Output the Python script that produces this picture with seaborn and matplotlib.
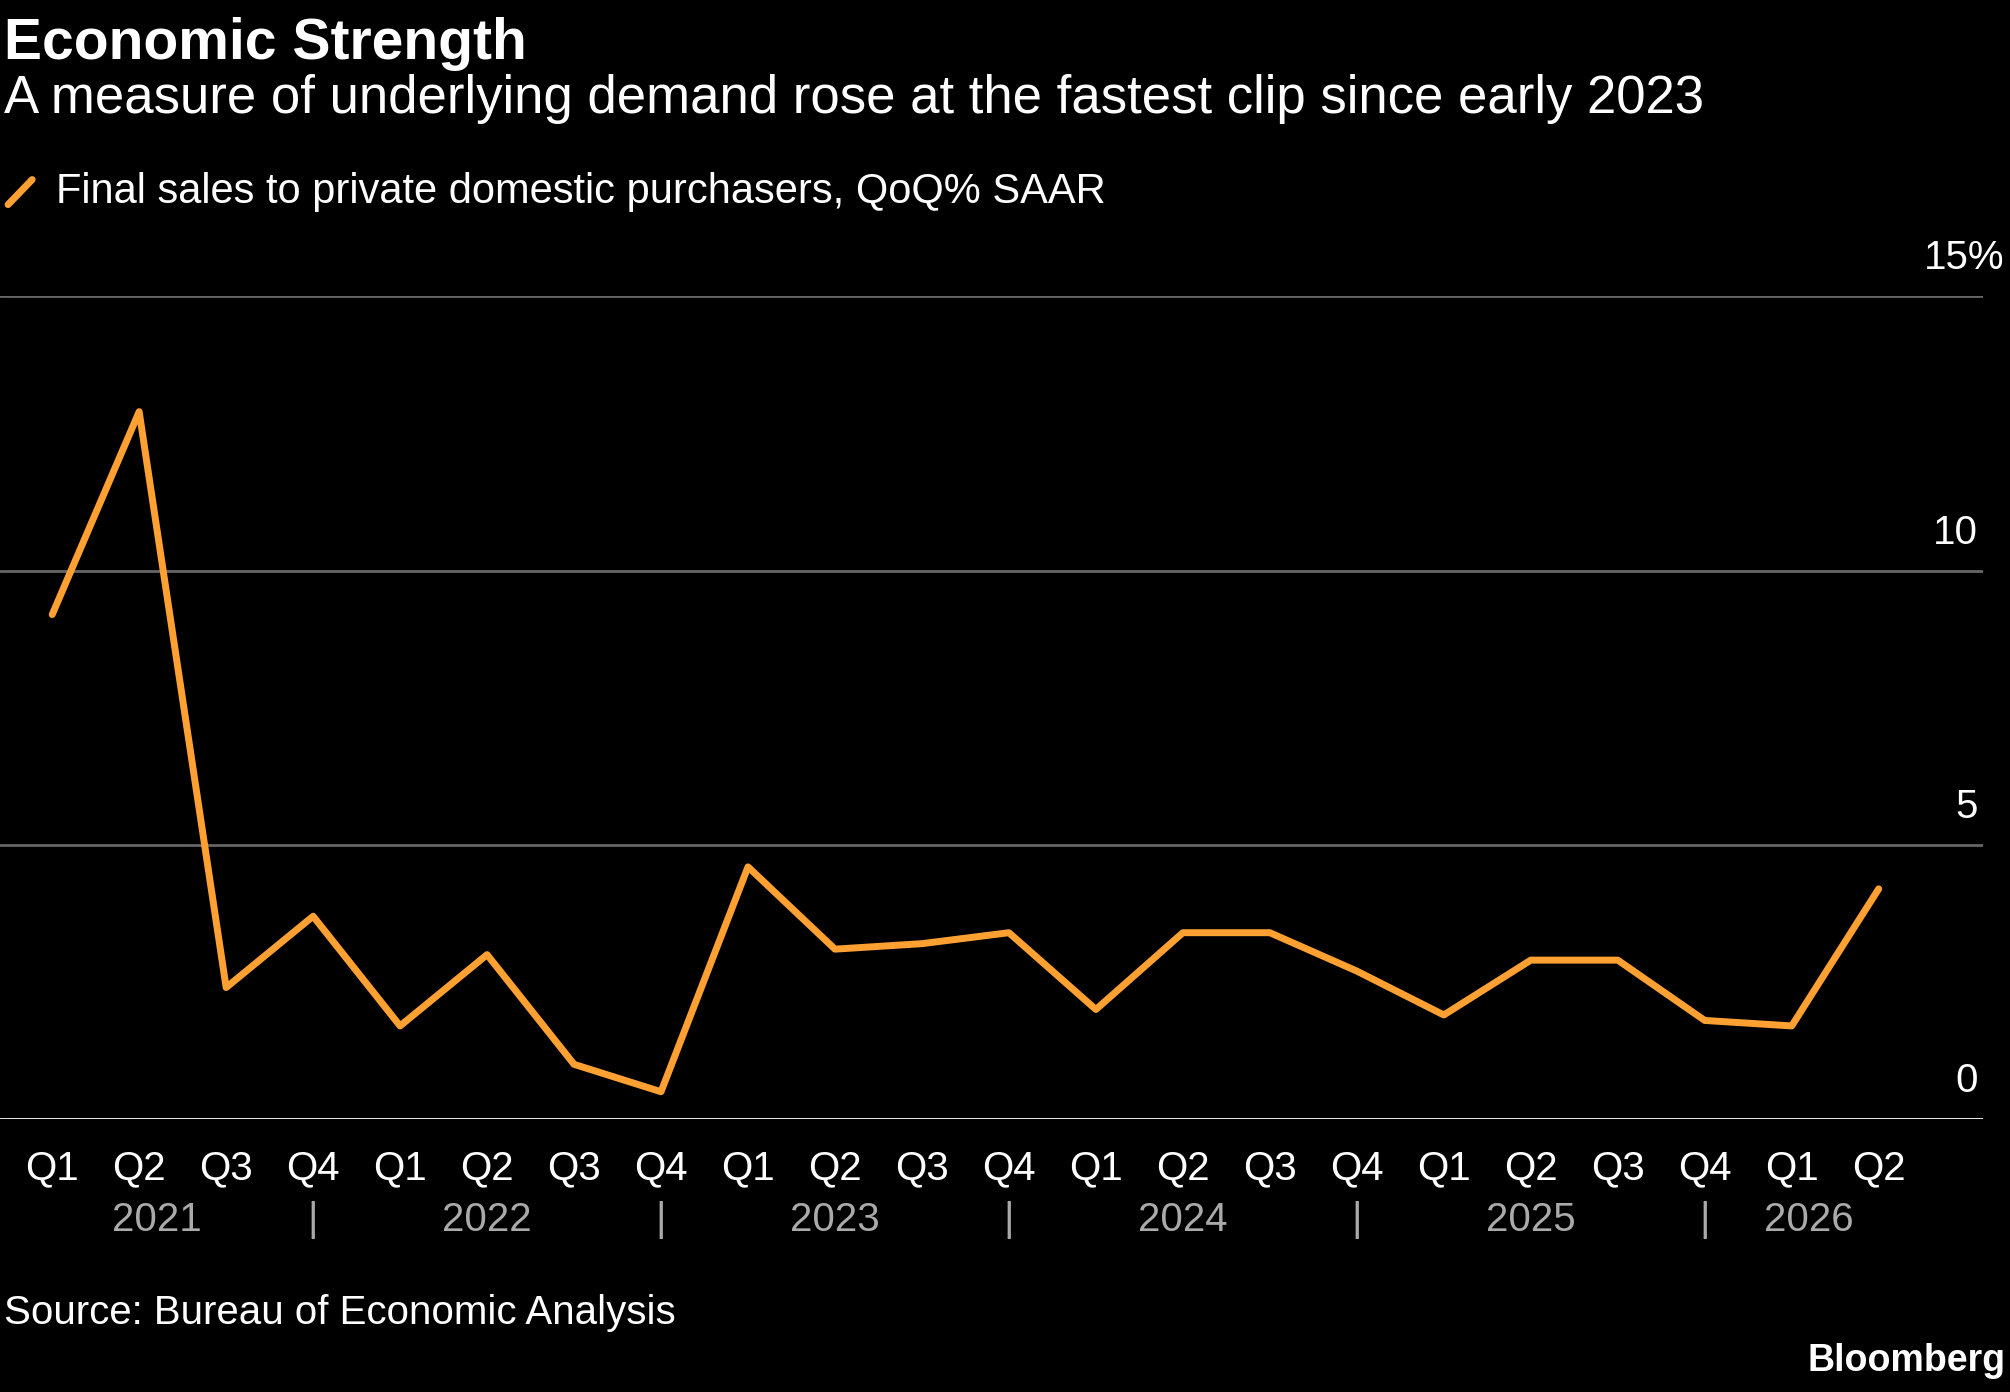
import matplotlib
matplotlib.use("Agg")
import matplotlib.pyplot as plt
import matplotlib.transforms as mtransforms
import seaborn as sns
import pandas as pd

# Données
quarters = ["Q1", "Q2", "Q3", "Q4"] * 5 + ["Q1", "Q2"]
years = ["2021", "2022", "2023", "2024", "2025", "2026"]
values = [9.2, 12.9, 2.4, 3.7, 1.7, 3.0, 1.0, 0.5, 4.6, 3.1, 3.2, 3.4,
          2.0, 3.4, 3.4, 2.7, 1.9, 2.9, 2.9, 1.8, 1.7, 4.2]
y_ticks = [0, 5, 10, 15]

df = pd.DataFrame({"idx": range(len(values)), "value": values})

sns.set_style("dark")
plt.rcParams["font.family"] = ["Liberation Sans Narrow", "Liberation Sans", "DejaVu Sans"]

orange = "#ffa132"
fig = plt.figure(figsize=(20.1, 13.92), dpi=100, facecolor="black")
ax = fig.add_axes([0.0, 0.196, 0.9866, 0.591])
ax.set_facecolor("black")

sns.lineplot(data=df, x="idx", y="value", ax=ax, color=orange, linewidth=5)

xmin, xmax = -0.6, 22.2
ax.set_xlim(xmin, xmax)
ax.set_ylim(0, 15)
for s in ax.spines.values():
    s.set_visible(False)
ax.grid(False)
for t in y_ticks[1:]:
    ax.axhline(t, color="#666666", linewidth=2, zorder=0)
ax.axhline(0, color="white", linewidth=2, zorder=0)

ax.set_yticks([])
ax.set_xticks(range(len(values)))
ax.set_xticklabels(quarters, color="white", fontsize=29)
ax.tick_params(axis="x", length=0, pad=22)
ax.set_xlabel("")
ax.set_ylabel("")

# Étiquettes de l'axe y au-dessus des lignes
trans = mtransforms.blended_transform_factory(fig.transFigure, ax.transData)
for t in y_ticks:
    lab = f"{t}%" if t == 15 else str(t)
    ax.text(0.997 if t == 15 else 0.984, t + 0.35, lab, transform=trans,
            ha="right", va="bottom", color="white", fontsize=29)

# Années et séparateurs (séparateurs sous les Q4)
xtrans = mtransforms.blended_transform_factory(ax.transData, ax.transAxes)
n = len(values)
for i, yr in enumerate(years):
    left = xmin if i == 0 else i * 4 - 1
    right = min(i * 4 + 3, n - 0.6)
    ax.text((left + right) / 2, -0.1, yr, transform=xtrans, ha="center",
            va="top", color="#aaaaaa", fontsize=29)
    if i > 0:
        ax.text(i * 4 - 1, -0.1, "|", transform=xtrans, ha="center",
                va="top", color="#aaaaaa", fontsize=29)

fig.text(0.002, 0.988, "Economic Strength", color="white", fontsize=41,
         fontweight="bold", va="top", family=["Liberation Sans", "DejaVu Sans"])
fig.text(0.002, 0.947, "A measure of underlying demand rose at the fastest clip since early 2023",
         color="white", fontsize=38, va="top")
fig.text(0.028, 0.862, "Final sales to private domestic purchasers, QoQ% SAAR",
         color="white", fontsize=30, va="center")
fig.add_artist(plt.Line2D([0.004, 0.016], [0.853, 0.871], color=orange,
                          linewidth=5, transform=fig.transFigure))
fig.text(0.002, 0.057, "Source: Bureau of Economic Analysis", color="white",
         fontsize=29, va="center")
fig.text(0.998, 0.022, "Bloomberg", color="white", fontsize=27,
         fontweight="bold", ha="right", va="center",
         family=["Liberation Sans", "DejaVu Sans"])

fig.savefig("out.png", facecolor="black")
